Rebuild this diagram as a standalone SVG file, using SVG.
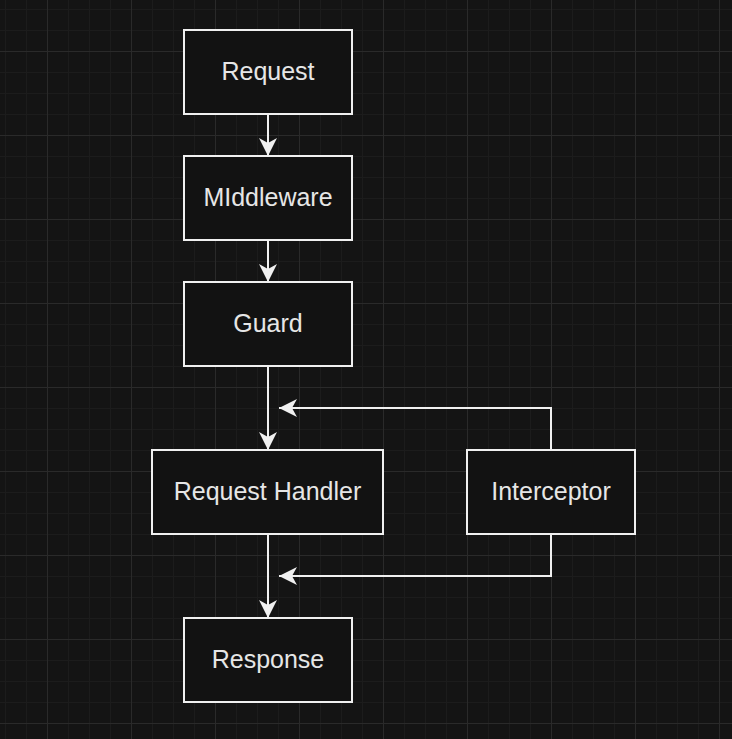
<svg xmlns="http://www.w3.org/2000/svg" width="732" height="739" viewBox="0 0 732 739">
  <defs>
    <pattern id="grid" patternUnits="userSpaceOnUse" x="47" y="51" width="84" height="84">
      <rect width="84" height="84" fill="#141414"/>
      <rect x="21" y="0" width="1" height="84" fill="#1c1c1c"/>
      <rect x="42" y="0" width="1" height="84" fill="#1c1c1c"/>
      <rect x="63" y="0" width="1" height="84" fill="#1c1c1c"/>
      <rect x="0" y="21" width="84" height="1" fill="#1c1c1c"/>
      <rect x="0" y="42" width="84" height="1" fill="#1c1c1c"/>
      <rect x="0" y="63" width="84" height="1" fill="#1c1c1c"/>
      <rect x="0" y="0" width="1" height="84" fill="#2a2a2a"/>
      <rect x="0" y="0" width="84" height="1" fill="#2a2a2a"/>
    </pattern>
    <marker id="arrow" markerUnits="userSpaceOnUse" viewBox="0 -10 19 20" refX="18" refY="0" markerWidth="19" markerHeight="20" orient="auto">
      <path d="M18,0 L0,-9 L5,0 L0,9 Z" fill="#f0f0f0"/>
    </marker>
    <style>
      .box { fill: #121212; stroke: #f0f0f0; stroke-width: 2; }
      .label { fill: #e6e6e6; font-family: "Liberation Sans", Arial, sans-serif; font-size: 25px; text-anchor: middle; }
      .edge { fill: none; stroke: #f0f0f0; stroke-width: 2; marker-end: url(#arrow); }
    </style>
  </defs>
  <rect width="732" height="739" fill="url(#grid)"/>

  <g id="connectors">
    <path class="edge" d="M268,114 L268,156"/>
    <path class="edge" d="M268,240 L268,282"/>
    <path class="edge" d="M268,366 L268,450"/>
    <path class="edge" d="M268,534 L268,618"/>
    <path class="edge" d="M551,450 L551,408 L279,408"/>
    <path class="edge" d="M551,534 L551,576 L279,576"/>
  </g>

  <g id="request">
    <rect class="box" x="184" y="30" width="168" height="84"/>
    <text class="label" x="268" y="79.5">Request</text>
  </g>
  <g id="middleware">
    <rect class="box" x="184" y="156" width="168" height="84"/>
    <text class="label" x="268" y="205.5">MIddleware</text>
  </g>
  <g id="guard">
    <rect class="box" x="184" y="282" width="168" height="84"/>
    <text class="label" x="268" y="331.5">Guard</text>
  </g>
  <g id="request-handler">
    <rect class="box" x="152" y="450" width="231" height="84"/>
    <text class="label" x="267.5" y="499.5">Request Handler</text>
  </g>
  <g id="interceptor">
    <rect class="box" x="467" y="450" width="168" height="84"/>
    <text class="label" x="551" y="499.5">Interceptor</text>
  </g>
  <g id="response">
    <rect class="box" x="184" y="618" width="168" height="84"/>
    <text class="label" x="268" y="667.5">Response</text>
  </g>
</svg>
